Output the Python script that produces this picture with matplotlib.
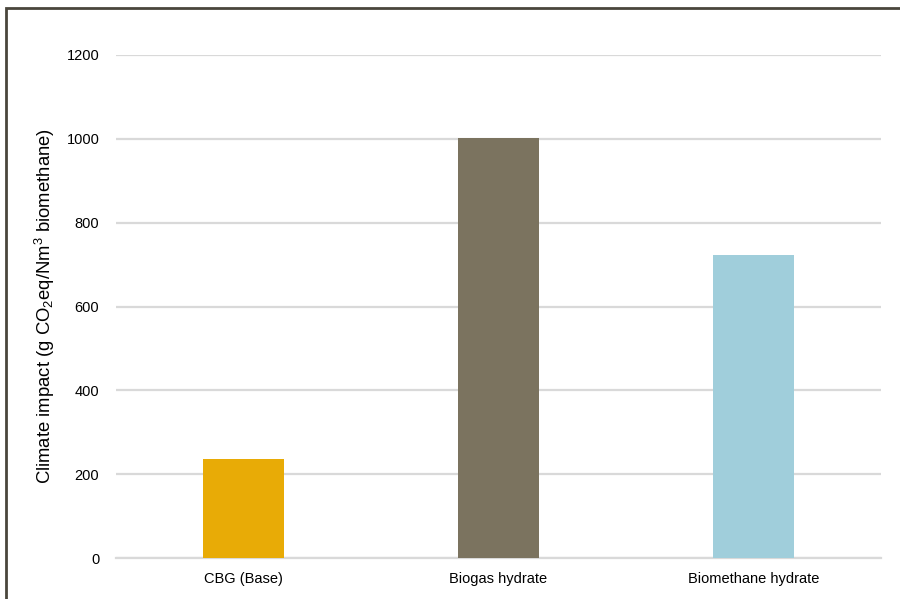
import matplotlib.pyplot as plt
from matplotlib.patches import Rectangle

plt.rcParams['font.family'] = ['Liberation Sans', 'DejaVu Sans']
plt.rcParams['mathtext.default'] = 'regular'

# Data
categories = ['CBG (Base)', 'Biogas hydrate', 'Biomethane hydrate']
values = [237, 1001, 723]
colors = ['#E8AB06', '#7B735F', '#A0CEDB']
yticks = [0, 200, 400, 600, 800, 1000, 1200]

fig = plt.figure(figsize=(9, 5.99), dpi=100)
ax = fig.add_axes([116 / 900, 1 - 558 / 599, (881 - 116) / 900, (558 - 55) / 599])

x = range(len(categories))
ax.bar(x, values, width=0.32, color=colors, zorder=3)

ax.set_xlim(-0.5, 2.5)
ax.set_ylim(0, 1200)
ax.set_yticks(yticks)
ax.set_xticks(list(x))
ax.set_xticklabels(categories)
ax.yaxis.grid(True, color='#d9d9d9', linewidth=1.6, zorder=0)
ax.set_axisbelow(True)
for s in ['top', 'right', 'left']:
    ax.spines[s].set_visible(False)
ax.spines['bottom'].set_color('#d9d9d9')
ax.spines['bottom'].set_linewidth(1.6)
ax.tick_params(axis='both', length=0, labelsize=10.5, colors='black')
ax.tick_params(axis='y', pad=12)
ax.tick_params(axis='x', pad=10)

ax.set_ylabel('Climate impact (g CO$_2$eq/Nm$^3$ biomethane)', fontsize=13.3)
ax.yaxis.set_label_coords(-0.077, 0.5)

# frame around the chart area (extends past right/bottom edges)
fig.patches.append(Rectangle((6 / 900, -0.1), 1.2, 1 - 8 / 599 + 0.1,
                             transform=fig.transFigure, fill=False,
                             edgecolor='#4a463c', linewidth=2))

fig.savefig('out.png', dpi=100)
